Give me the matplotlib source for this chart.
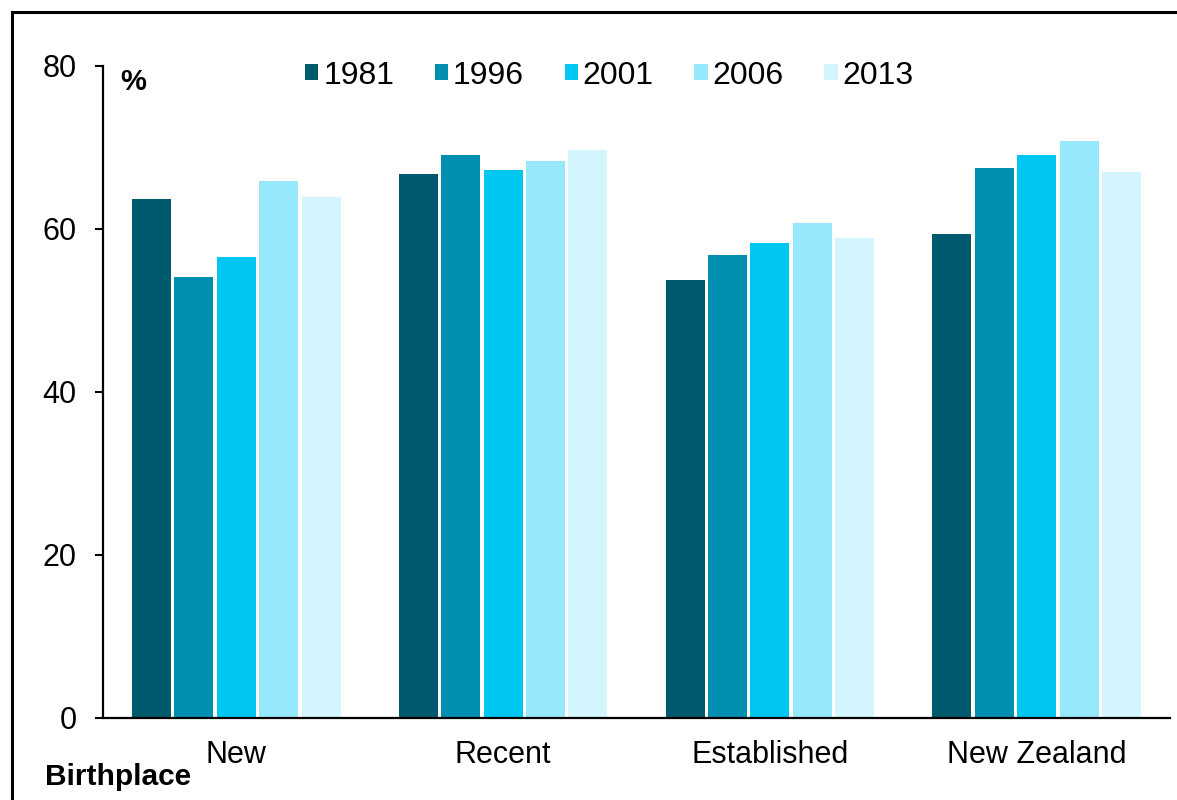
import matplotlib
matplotlib.use("Agg")
import matplotlib.pyplot as plt
import numpy as np
from matplotlib.lines import Line2D
from matplotlib.patches import Patch

plt.rcParams['font.family'] = ['Liberation Sans', 'DejaVu Sans']

categories = ["New", "Recent", "Established", "New Zealand"]
years = ["1981", "1996", "2001", "2006", "2013"]
values_1981 = [63.6, 66.7, 53.7, 59.3]
values_1996 = [54.1, 69.1, 56.8, 67.4]
values_2001 = [56.5, 67.2, 58.3, 69.0]
values_2006 = [65.8, 68.3, 60.7, 70.7]
values_2013 = [63.9, 69.7, 58.9, 66.9]
yticks = [0, 20, 40, 60, 80]

series = [values_1981, values_1996, values_2001, values_2006, values_2013]
colors = ["#005A6E", "#008FB0", "#00C6F2", "#96E9FD", "#D2F5FE"]

W, H = 1177, 800
fig = plt.figure(figsize=(W / 100, H / 100), dpi=100)
ax = fig.add_axes([103 / W, 1 - 717.7 / H, (1170 - 103) / W, (717.7 - 65.7) / H])

x = np.arange(len(categories))
slot = 0.159
bar_w = 0.146
for i, (vals, col) in enumerate(zip(series, colors)):
    ax.bar(x + (i - 2) * slot, vals, width=bar_w, color=col, label=years[i], zorder=2)

ax.set_xlim(-0.5, len(categories) - 0.5)
ax.set_ylim(0, 80)
ax.set_yticks(yticks)
ax.set_yticklabels([str(t) for t in yticks], fontsize=22)
ax.set_xticks(x)
ax.set_xticklabels(categories, fontsize=22)
ax.tick_params(axis='y', direction='out', length=6, width=1.5, pad=13)
ax.tick_params(axis='x', length=0, pad=16)
for s in ["top", "right"]:
    ax.spines[s].set_visible(False)
for s in ["left", "bottom"]:
    ax.spines[s].set_linewidth(1.6)

handles = [Patch(facecolor=c, edgecolor='none') for c in colors]
leg = fig.legend(handles, years, loc='center left', bbox_to_anchor=(305 / W, 1 - 75.5 / H),
                 ncol=5, frameon=False, fontsize=23, handlelength=0.42, handleheight=0.42,
                 handletextpad=0.15, columnspacing=1.27, borderaxespad=0, borderpad=0)

fig.text(120 / W, 1 - 82 / H, "%", fontsize=21, fontweight='bold', va='center', ha='left')
fig.text(45 / W, 1 - 777 / H, "Birthplace", fontsize=21.5, fontweight='bold', va='center', ha='left')

# outer frame (left and top edges)
fig.add_artist(Line2D([11.5 / W, 11.5 / W], [0, 1 - 11.5 / H], transform=fig.transFigure,
                      color='black', linewidth=2.2))
fig.add_artist(Line2D([11.5 / W, 1], [1 - 11.5 / H, 1 - 11.5 / H], transform=fig.transFigure,
                      color='black', linewidth=2.2))

fig.savefig("out.png", dpi=100)
